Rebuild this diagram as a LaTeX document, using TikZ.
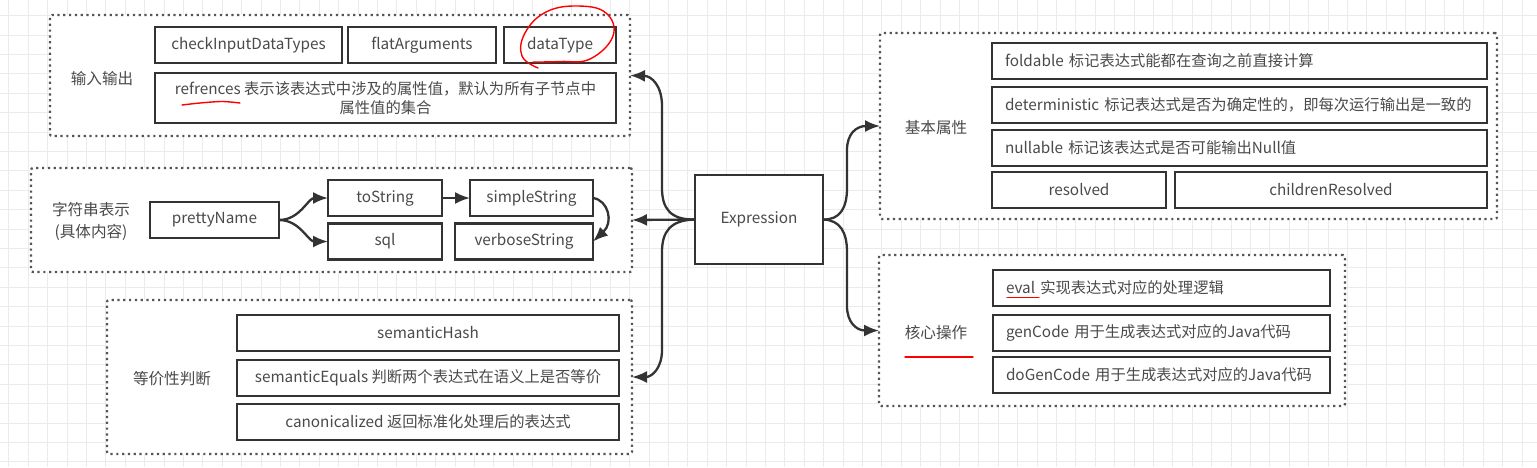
\documentclass[tikz,border=0pt]{standalone}
\usepackage{fontspec}
\setmainfont{Noto Sans CJK SC}
\usetikzlibrary{arrows.meta}
\definecolor{lineC}{HTML}{333333}
\definecolor{textC}{HTML}{4A4A4A}
\definecolor{dotC}{HTML}{555555}
\definecolor{gridC}{HTML}{EBEBEB}
\tikzset{
  box/.style={draw=lineC, line width=2.7pt, fill=white, inner sep=0pt, outer sep=0pt,
    minimum height=36pt, text=textC, font=\fontsize{15.3}{19}\selectfont, align=center},
  lbox/.style={box, inner xsep=13pt, align=left},
  grp/.style={draw=dotC, line width=2.2pt, dash pattern=on 2.2pt off 3.6pt, rounded corners=2pt,
    fill=white, inner sep=0pt, outer sep=0pt},
  lbl/.style={text=textC, font=\fontsize{15.6}{22}\selectfont, align=center, inner sep=0pt},
  arr/.style={draw=lineC, line width=2.3pt, -{Latex[length=15pt,width=12pt]}},
  redpen/.style={draw=red, line width=1.4pt, line cap=round, line join=round}
}
\begin{document}
\begin{tikzpicture}[x=1pt,y=-1pt]
\useasboundingbox (0,0) rectangle (1537,467);
\fill[white] (0,0) rectangle (1537,467);
% background grid
\foreach \i in {0,...,79} {
  \draw[gridC, line width=0.8pt] ({8.7+19.4*\i},0) -- ({8.7+19.4*\i},467);
}
\foreach \j in {0,...,23} {
  \draw[gridC, line width=0.8pt] (0,{15.5+19.4*\j}) -- (1537,{15.5+19.4*\j});
}

% groups
\node[grp, minimum width=580pt, minimum height=121pt] (g1) at (340,75.5) {};
\node[grp, minimum width=601pt, minimum height=104pt] (g2) at (331.5,220) {};
\node[grp, minimum width=525pt, minimum height=154pt] (g3) at (369.5,377) {};
\node[grp, minimum width=617pt, minimum height=186pt] (g4) at (1188.5,126) {};
\node[grp, minimum width=466pt, minimum height=151pt] (g5) at (1112,330.5) {};

% group labels
\node[lbl] (l1) at (102,79) {输入输出};
\node[lbl] (l2) at (91,221) {字符串表示\\(具体内容)};
\node[lbl] (l3) at (172,379) {等价性判断};
\node[lbl] (l4) at (936,128) {基本属性};
\node[lbl] (l5) at (936,333) {核心操作};

% group 1
\node[box, minimum width=187pt] (n1) at (248.5,45) {checkInputDataTypes};
\node[box, minimum width=148pt] (n2) at (422,45) {flatArguments};
\node[box, minimum width=112pt] (n3) at (560,45) {dataType};
\node[box, minimum width=461pt, minimum height=50pt] (n4) at (385.5,98)
  {refrences 表示该表达式中涉及的属性值，默认为所有子节点中\\属性值的集合};

% group 2
\node[box, minimum width=129pt] (pn) at (214.5,220) {prettyName};
\node[box, minimum width=114pt] (ts) at (385,198) {toString};
\node[box, minimum width=123pt] (ss) at (531.5,198) {simpleString};
\node[box, minimum width=114pt] (sq) at (385,241.5) {sql};
\node[box, minimum width=138pt] (vs) at (524,241.5) {verboseString};

% group 3
\node[box, minimum width=382pt] (sh) at (428,333) {semanticHash};
\node[box, minimum width=382pt] (se) at (428,378) {semanticEquals 判断两个表达式在语义上是否等价};
\node[box, minimum width=382pt] (ca) at (428,422) {canonicalized 返回标准化处理后的表达式};

% group 4
\node[lbox, text width=469pt] (fo) at (1239.5,61) {foldable 标记表达式能都在查询之前直接计算};
\node[lbox, text width=469pt] (de) at (1239.5,105) {deterministic 标记表达式是否为确定性的，即每次运行输出是一致的};
\node[lbox, text width=469pt] (nu) at (1239.5,148) {nullable 标记该表达式是否可能输出Null值};
\node[box, minimum width=174pt] (re) at (1079,190) {resolved};
\node[box, minimum width=312pt] (cr) at (1331,190) {childrenResolved};

% group 5
\node[lbox, text width=311pt] (ev) at (1161.5,288) {eval 实现表达式对应的处理逻辑};
\node[lbox, text width=311pt] (gc) at (1161.5,333) {genCode 用于生成表达式对应的Java代码};
\node[lbox, text width=311pt] (dg) at (1161.5,375) {doGenCode 用于生成表达式对应的Java代码};

% center
\node[box, minimum width=128pt, minimum height=89pt] (ex) at (759,219.5) {Expression};

% connectors from Expression
\draw[arr] (ex.west) .. controls (670,220) and (662,208) .. (662,188) -- (662,106)
  .. controls (662,86) and (652,76) .. (g1.east);
\draw[arr] (ex.west) -- (g2.east);
\draw[arr] (ex.west) .. controls (670,220) and (662,232) .. (662,252) -- (662,350)
  .. controls (662,368) and (652,377) .. (g3.east);
\draw[arr] (ex.east) .. controls (840,220) and (847,208) .. (847,188) -- (847,150)
  .. controls (847,134) and (856,126) .. (g4.west);
\draw[arr] (ex.east) .. controls (840,220) and (847,232) .. (847,252) -- (847,306)
  .. controls (847,322) and (856,330.5) .. (g5.west);

% connectors in group 2
\draw[arr] (pn.east) .. controls (300,220) and (308,198) .. (ts.west);
\draw[arr] (pn.east) .. controls (300,220) and (308,241.5) .. (sq.west);
\draw[arr] (ts.east) -- (ss.west);
\draw[arr] (ss.east) .. controls (608,200) and (614,222) .. (vs.east);

% red pen marks
\draw[redpen] plot[smooth, tension=0.7] coordinates {(533,62) (560,61.5) (590,59) (613,36) (606,13) (578,6) (546,12) (525,33) (522,56) (538,68)};
\draw[redpen] plot[smooth] coordinates {(182,105) (200,103) (222,101.5) (240,103)};
\draw[redpen] (1007,297.5) -- (1039,297.5);
\draw[redpen] (905,357) -- (973,357);
\end{tikzpicture}
\end{document}
